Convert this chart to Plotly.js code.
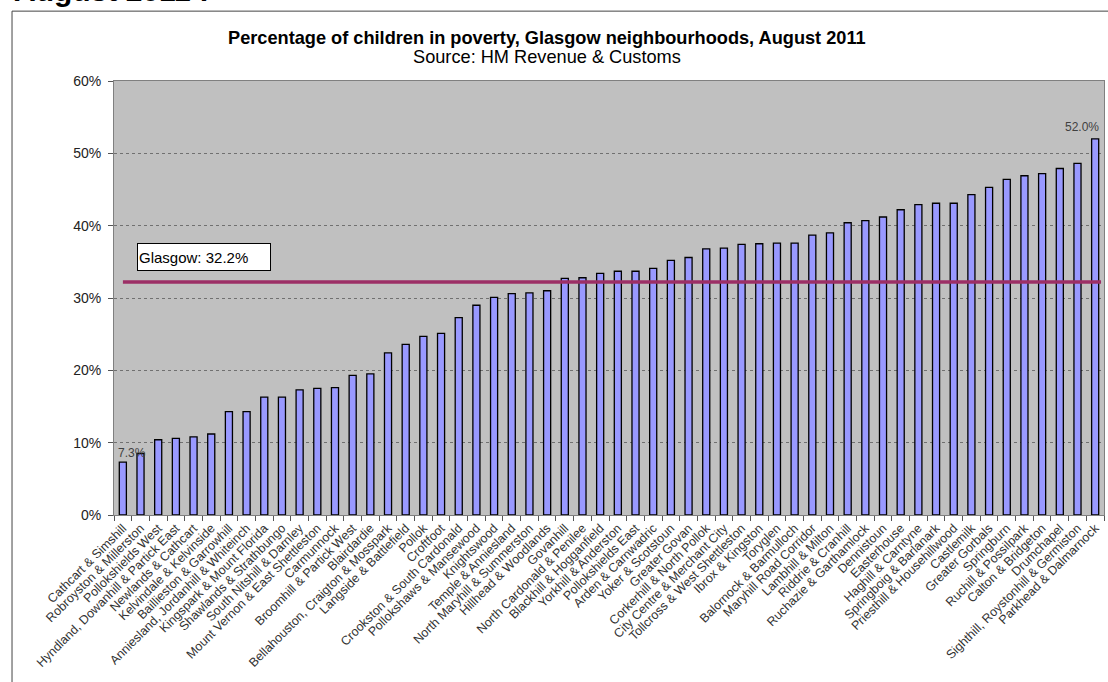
<!DOCTYPE html>
<html>
<head>
<meta charset="utf-8">
<script src="https://cdn.plot.ly/plotly-3.0.1.min.js"></script>
<style>
  html, body { margin: 0; padding: 0; background: #fff; }
  #chart { width: 1108px; height: 682px; }
</style>
</head>
<body>
<div id="chart"></div>
<script>
const neighbourhoods = [
    'Cathcart & Simshill', 'Robroyston & Millerston', 'Pollokshields West',
    'Hyndland, Dowanhill & Partick East', 'Newlands & Cathcart', 'Kelvindale & Kelvinside',
    'Baillieston & Garrowhill', 'Anniesland, Jordanhill & Whiteinch', 'Kingspark & Mount Florida',
    'Shawlands & Strathbungo', 'South Nitshill & Darnley', 'Mount Vernon & East Shettleston',
    'Carmunnock', 'Broomhill & Partick West', 'Blairdardie',
    'Bellahouston, Craigton & Mosspark', 'Langside & Battlefield', 'Pollok',
    'Croftfoot', 'Crookston & South Cardonald', 'Pollokshaws & Mansewood',
    'Knightswood', 'Temple & Anniesland', 'North Maryhill & Summerston',
    'Hillhead & Woodlands', 'Govanhill', 'North Cardonald & Penilee',
    'Blackhill & Hogganfield', 'Yorkhill & Anderston', 'Pollokshields East',
    'Arden & Carnwadric', 'Yoker & Scotstoun', 'Greater Govan',
    'Corkerhill & North Pollok', 'City Centre & Merchant City', 'Tollcross & West Shettleston',
    'Ibrox & Kingston', 'Toryglen', 'Balornock & Barmulloch',
    'Maryhill Road Corridor', 'Lambhill & Milton', 'Riddrie & Cranhill',
    'Ruchazie & Garthamlock', 'Dennistoun', 'Easterhouse',
    'Haghill & Carntyne', 'Springboig & Barlanark', 'Priesthill & Househillwood',
    'Castlemilk', 'Greater Gorbals', 'Springburn',
    'Ruchill & Possilpark', 'Calton & Bridgeton', 'Drumchapel',
    'Sighthill, Roystonhill & Germiston', 'Parkhead & Dalmarnock'];

const povertyPct = [
    7.3, 8.5, 10.4, 10.6, 10.8, 11.2, 14.3, 14.3, 16.3, 16.3,
    17.3, 17.5, 17.6, 19.3, 19.5, 22.4, 23.6, 24.7, 25.1, 27.3,
    29.0, 30.1, 30.6, 30.7, 31.0, 32.7, 32.8, 33.4, 33.7, 33.7,
    34.1, 35.2, 35.6, 36.8, 36.9, 37.4, 37.5, 37.6, 37.6, 38.7,
    39.0, 40.4, 40.7, 41.2, 42.2, 42.9, 43.1, 43.1, 44.3, 45.3,
    46.4, 46.9, 47.2, 47.9, 48.6, 52.0];

const glasgowAvg = 32.2;
const yTicks = [0, 10, 20, 30, 40, 50, 60];

const font = 'Liberation Sans, Arial, sans-serif';
const last = povertyPct.length - 1;

const bars = {
    type: 'bar',
    x: neighbourhoods,
    y: povertyPct,
    marker: { color: '#9999ff', line: { color: '#000', width: 1.3 } },
    hoverinfo: 'x+y',
};

const layout = {
    width: 1108,
    height: 682,
    margin: { l: 114, r: 4, t: 81, b: 167 },
    paper_bgcolor: '#fff',
    plot_bgcolor: '#c0c0c0',
    showlegend: false,
    bargap: 0.6,
    font: { family: font, color: '#222' },
    xaxis: {
        type: 'category',
        tickangle: -45,
        tickfont: { size: 12.5, color: '#333' },
        ticks: 'outside',
        tickson: 'boundaries',
        ticklen: 5,
        tickcolor: '#555',
        showline: true,
        linecolor: '#808080',
        mirror: true,
        showgrid: false,
        automargin: false,
    },
    yaxis: {
        range: [0, 60],
        tickvals: yTicks,
        ticktext: yTicks.map(v => v + '%'),
        tickfont: { size: 14, color: '#222' },
        ticks: 'outside',
        ticklen: 5,
        tickcolor: '#555',
        ticklabelstandoff: 4,
        showline: true,
        linecolor: '#808080',
        mirror: true,
        showgrid: true,
        gridcolor: '#707070',
        griddash: 'dot',
        zeroline: false,
        automargin: false,
    },
    shapes: [
        // Glasgow average line
        { type: 'line', xref: 'paper', yref: 'y', x0: 0.009, x1: 0.997,
          y0: glasgowAvg, y1: glasgowAvg, line: { color: '#9c2f66', width: 3.5 } },
        // chart frame (left and top edges)
        { type: 'line', xref: 'paper', yref: 'paper', x0: -0.103, x1: -0.103,
          y0: -0.4, y1: 1.161, line: { color: '#444', width: 1 } },
        { type: 'line', xref: 'paper', yref: 'paper', x0: -0.103, x1: 1.01,
          y0: 1.161, y1: 1.161, line: { color: '#444', width: 1 } },
    ],
    annotations: [
        { text: '<b>August 2011 :</b>', xref: 'paper', yref: 'paper', x: -0.103, y: 1.165,
          xanchor: 'left', yanchor: 'bottom', showarrow: false,
          font: { size: 30, color: '#000', family: font } },
        { text: '<b>Percentage of children in poverty, Glasgow neighbourhoods, August 2011</b>',
          xref: 'paper', yref: 'paper', x: 0.437, y: 1.1, xanchor: 'center', yanchor: 'middle',
          showarrow: false, font: { size: 18.2, color: '#000', family: font } },
        { text: 'Source: HM Revenue & Customs',
          xref: 'paper', yref: 'paper', x: 0.437, y: 1.055, xanchor: 'center', yanchor: 'middle',
          showarrow: false, font: { size: 18.2, color: '#000', family: font } },
        { text: 'Glasgow: ' + glasgowAvg.toFixed(1) + '%', xref: 'paper', yref: 'paper',
          x: 0.0909, y: 0.5945, xanchor: 'center', yanchor: 'middle', showarrow: false,
          width: 130, height: 24, align: 'left', bgcolor: '#fff', bordercolor: '#000',
          borderwidth: 1, borderpad: 1, font: { size: 15, color: '#000', family: font } },
        { text: povertyPct[0].toFixed(1) + '%', x: neighbourhoods[0], y: povertyPct[0],
          xanchor: 'left', yanchor: 'bottom', xshift: -7, yshift: 0, showarrow: false,
          font: { size: 12, color: '#404040', family: font } },
        { text: povertyPct[last].toFixed(1) + '%', x: neighbourhoods[last], y: povertyPct[last],
          xanchor: 'right', yanchor: 'bottom', xshift: 6, yshift: 3, showarrow: false,
          font: { size: 12, color: '#404040', family: font } },
    ],
};

Plotly.newPlot('chart', [bars], layout, { displayModeBar: false, staticPlot: true });
</script>
</body>
</html>
